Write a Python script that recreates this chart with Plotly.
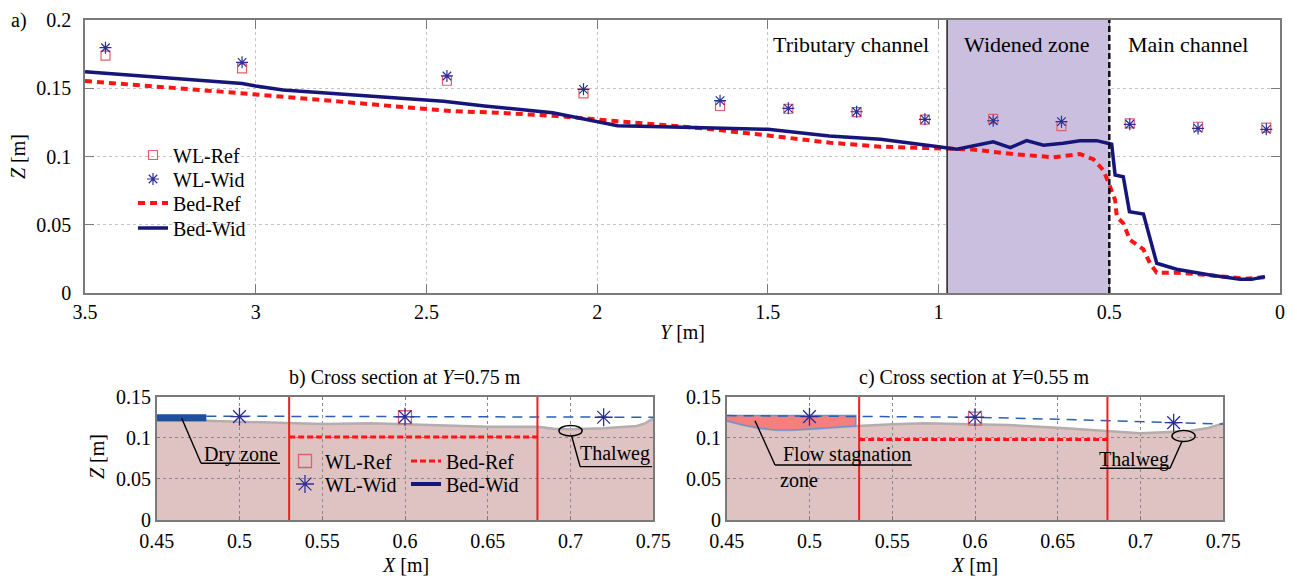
import plotly.graph_objects as go

FONT = "Liberation Serif"
W, H = 1297, 579

# ---------------- a) longitudinal profile ----------------
y_wl = [3.44, 3.04, 2.44, 2.04, 1.64, 1.44, 1.24, 1.04, 0.84, 0.64, 0.44, 0.24, 0.04]
wl_ref = [0.1739, 0.1646, 0.1555, 0.1463, 0.1370, 0.1350, 0.1325, 0.1270, 0.1275, 0.1223, 0.1243, 0.1218, 0.1211]
wl_wid = [0.1797, 0.1690, 0.1590, 0.1492, 0.1409, 0.1353, 0.1328, 0.1272, 0.1262, 0.1255, 0.1236, 0.1206, 0.1199]

y_bed_wid = [3.5, 3.04, 3.0, 2.92, 2.45, 2.33, 2.13, 1.94, 1.81, 1.55, 1.50, 1.32, 1.17, 1.0, 0.947,
             0.84, 0.79, 0.742, 0.693, 0.635, 0.586, 0.537, 0.493, 0.483, 0.459, 0.441, 0.40,
             0.361, 0.303, 0.205, 0.117, 0.083, 0.044]
z_bed_wid = [0.1621, 0.1535, 0.1516, 0.1487, 0.1405, 0.1370, 0.1320, 0.1226, 0.1218, 0.1206, 0.1199,
             0.1150, 0.1126, 0.1072, 0.1053, 0.1108, 0.1065, 0.1116, 0.1082, 0.1097, 0.1116, 0.1116,
             0.1090, 0.0864, 0.0852, 0.0596, 0.0579, 0.0218, 0.0174, 0.0132, 0.0100, 0.0100, 0.0120]

y_bed_ref = [3.5, 3.0, 2.43, 2.294, 2.12, 2.0, 1.88, 1.69, 1.51, 1.318, 1.17, 1.0, 0.908, 0.78,
             0.664, 0.586, 0.547, 0.518, 0.503, 0.483, 0.478, 0.459, 0.439, 0.40, 0.381, 0.361,
             0.303, 0.25, 0.20, 0.15, 0.10, 0.044]
z_bed_ref = [0.1553, 0.1455, 0.1333, 0.1321, 0.1297, 0.1272, 0.1243, 0.1206, 0.1157, 0.1101, 0.1072,
             0.1060, 0.1053, 0.1018, 0.0994, 0.1018, 0.0980, 0.0901, 0.0815, 0.0681, 0.0559, 0.0511,
             0.0388, 0.0320, 0.0218, 0.0149, 0.0149, 0.0140, 0.0130, 0.0118, 0.0105, 0.0115]

widened_zone = [0.975, 0.5]
zones = ["Tributary channel", "Widened zone", "Main channel"]
zone_label_y = [1.257, 0.741, 0.27]

ya_ticks = [3.5, 3, 2.5, 2, 1.5, 1, 0.5, 0]
ya_ticktext = ["3.5", "3", "2.5", "2", "1.5", "1", "0.5", "0"]
za_ticks = [0, 0.05, 0.1, 0.15, 0.2]
za_ticktext = ["0", "0.05", "0.1", "0.15", "0.2"]

# ---------------- b) cross section at Y = 0.75 m ----------------
xb_bed = [0.45, 0.48, 0.50, 0.52, 0.55, 0.58, 0.60, 0.62, 0.65, 0.68, 0.69, 0.70, 0.72, 0.74, 0.745, 0.75]
zb_bed = [0.1208, 0.1208, 0.1196, 0.1184, 0.1168, 0.1176, 0.1168, 0.1152, 0.1135, 0.1135, 0.1111,
          0.1103, 0.1115, 0.1144, 0.1176, 0.1237]
xb_water = [0.48, 0.75]
zb_water = [0.1263, 0.1250]
xb_dry = [0.45, 0.48]
zb_dry = [0.1245, 0.1245]
xb_wl_wid = [0.50, 0.60, 0.72]
zb_wl_wid = [0.1257, 0.1255, 0.1250]
xb_wl_ref = [0.60]
zb_wl_ref = [0.1250]
xb_bed_ref = [0.53, 0.68]
zb_bed_ref = [0.101, 0.101]

# ---------------- c) cross section at Y = 0.55 m ----------------
xc_bed = [0.45, 0.46, 0.47, 0.48, 0.49, 0.50, 0.51, 0.52, 0.528, 0.53, 0.55, 0.57, 0.60, 0.62, 0.65,
          0.67, 0.69, 0.70, 0.72, 0.73, 0.74, 0.745, 0.75]
zc_bed = [0.1208, 0.1156, 0.1115, 0.1095, 0.1095, 0.1103, 0.1119, 0.1135, 0.1144, 0.1144, 0.1164,
          0.1176, 0.1168, 0.1156, 0.1123, 0.1095, 0.1062, 0.1054, 0.1074, 0.1086, 0.1115, 0.1144, 0.1176]
xc_water = [0.45, 0.50, 0.60, 0.65, 0.72, 0.75]
zc_water = [0.1270, 0.1265, 0.1250, 0.1225, 0.1184, 0.1168]
stagnation_end = 0.528
stagnation_top = 0.127
xc_wl_wid = [0.50, 0.60, 0.72]
zc_wl_wid = [0.1257, 0.1250, 0.1184]
xc_wl_ref = [0.60]
zc_wl_ref = [0.1233]
xc_bed_ref = [0.53, 0.68]
zc_bed_ref = [0.098, 0.098]

ref_banks = [0.53, 0.68]
xs_ticks = [0.45, 0.5, 0.55, 0.6, 0.65, 0.7, 0.75]
xs_ticktext = ["0.45", "0.5", "0.55", "0.6", "0.65", "0.7", "0.75"]
zs_ticks = [0, 0.05, 0.1, 0.15]
zs_ticktext = ["0", "0.05", "0.1", "0.15"]

NAVY = "#15157a"
RED = "#ff1414"
SQ = "#e0606a"
STAR = "#2e2e96"
WATER = "#2b5fb4"
ROSE = "#dec3c2"

fig = go.Figure()

# panel a traces (each legend row is its own legend box)
fig.add_trace(go.Scatter(x=y_bed_ref, y=z_bed_ref, mode="lines", name="Bed-Ref",
                         line=dict(color=RED, width=4, dash="7px,5px"), legend="legend3"))
fig.add_trace(go.Scatter(x=y_bed_wid, y=z_bed_wid, mode="lines", name="Bed-Wid",
                         line=dict(color=NAVY, width=3.5), legend="legend4"))
fig.add_trace(go.Scatter(x=y_wl, y=wl_ref, mode="markers", name="WL-Ref",
                         marker=dict(symbol="square-open", size=9, color=SQ, line=dict(width=1.2)),
                         legend="legend"))
fig.add_trace(go.Scatter(x=y_wl, y=wl_wid, mode="markers", name="WL-Wid",
                         marker=dict(symbol="asterisk-open", size=10, color=STAR,
                                     line=dict(width=1.2, color=STAR)), legend="legend2"))

# panel b traces
fig.add_trace(go.Scatter(x=xb_bed, y=zb_bed, mode="lines", line=dict(color="#b5adad", width=2.5),
                         xaxis="x2", yaxis="y2", showlegend=False, hoverinfo="skip"))
fig.add_trace(go.Scatter(x=xb_water, y=zb_water, mode="lines", line=dict(color=WATER, width=1.5, dash="10px,7px"),
                         xaxis="x2", yaxis="y2", showlegend=False))
fig.add_trace(go.Scatter(x=xb_dry, y=zb_dry, mode="lines", line=dict(color="#1f4f9f", width=7),
                         xaxis="x2", yaxis="y2", showlegend=False))
for xv in ref_banks:
    fig.add_trace(go.Scatter(x=[xv, xv], y=[0, 0.15], mode="lines", line=dict(color="#ee2020", width=2),
                             xaxis="x2", yaxis="y2", showlegend=False, hoverinfo="skip"))
fig.add_trace(go.Scatter(x=xb_bed_ref, y=zb_bed_ref, mode="lines", name="Bed-Ref",
                         line=dict(color=RED, width=3, dash="6px,3px"),
                         xaxis="x2", yaxis="y2", legend="legend7"))
fig.add_trace(go.Scatter(x=[None], y=[None], mode="lines", name="Bed-Wid",
                         line=dict(color=NAVY, width=4), xaxis="x2", yaxis="y2", legend="legend8"))
fig.add_trace(go.Scatter(x=xb_wl_ref, y=zb_wl_ref, mode="markers", name="WL-Ref",
                         marker=dict(symbol="square-open", size=13, color=SQ, line=dict(width=1.3)),
                         xaxis="x2", yaxis="y2", legend="legend5"))
fig.add_trace(go.Scatter(x=xb_wl_wid, y=zb_wl_wid, mode="markers", name="WL-Wid",
                         marker=dict(symbol="asterisk-open", size=15, color=STAR,
                                     line=dict(width=1.3, color=STAR)),
                         xaxis="x2", yaxis="y2", legend="legend6"))

# panel c traces
stag_x = [x for x in xc_bed if x <= stagnation_end] + [stagnation_end, xc_bed[0]]
stag_z = [z for x, z in zip(xc_bed, zc_bed) if x <= stagnation_end] + [stagnation_top, stagnation_top]
fig.add_trace(go.Scatter(x=xc_bed, y=zc_bed, mode="lines", line=dict(color="#b5adad", width=2.5),
                         xaxis="x3", yaxis="y3", showlegend=False, hoverinfo="skip"))
fig.add_trace(go.Scatter(x=stag_x, y=stag_z, mode="lines", fill="toself", fillcolor="#f3807e",
                         line=dict(color="#7392c8", width=1.5),
                         xaxis="x3", yaxis="y3", showlegend=False))
fig.add_trace(go.Scatter(x=xc_water, y=zc_water, mode="lines", line=dict(color=WATER, width=1.5, dash="10px,7px"),
                         xaxis="x3", yaxis="y3", showlegend=False))
for xv in ref_banks:
    fig.add_trace(go.Scatter(x=[xv, xv], y=[0, 0.15], mode="lines", line=dict(color="#ee2020", width=2),
                             xaxis="x3", yaxis="y3", showlegend=False, hoverinfo="skip"))
fig.add_trace(go.Scatter(x=xc_bed_ref, y=zc_bed_ref, mode="lines", line=dict(color=RED, width=3, dash="6px,3px"),
                         xaxis="x3", yaxis="y3", showlegend=False))
fig.add_trace(go.Scatter(x=xc_wl_ref, y=zc_wl_ref, mode="markers",
                         marker=dict(symbol="square-open", size=13, color=SQ, line=dict(width=1.3)),
                         xaxis="x3", yaxis="y3", showlegend=False))
fig.add_trace(go.Scatter(x=xc_wl_wid, y=zc_wl_wid, mode="markers",
                         marker=dict(symbol="asterisk-open", size=15, color=STAR,
                                     line=dict(width=1.3, color=STAR)),
                         xaxis="x3", yaxis="y3", showlegend=False))


def bed_path(xs, zs):
    pts = [f"L {x},{z}" for x, z in zip(xs, zs)]
    return f"M {xs[0]},0 " + " ".join(pts) + f" L {xs[-1]},0 Z"


shapes = [
    dict(type="rect", xref="x", yref="y", x0=widened_zone[0], x1=widened_zone[1], y0=0, y1=0.2,
         fillcolor="#cbbfdf", line=dict(width=0), layer="between"),
    dict(type="line", xref="x", yref="y", x0=widened_zone[0], x1=widened_zone[0], y0=0, y1=0.2,
         line=dict(color="#202020", width=1.5)),
    dict(type="line", xref="x", yref="y", x0=widened_zone[1], x1=widened_zone[1], y0=0, y1=0.2,
         line=dict(color="#101010", width=2.5, dash="6px,3px")),
    dict(type="path", xref="x2", yref="y2", path=bed_path(xb_bed, zb_bed),
         fillcolor=ROSE, line=dict(width=0), layer="below"),
    dict(type="path", xref="x3", yref="y3", path=bed_path(xc_bed, zc_bed),
         fillcolor=ROSE, line=dict(width=0), layer="below"),
]

LEADER = dict(color="black", width=1.4)
# Dry zone
shapes += [
    dict(type="line", xref="x2", yref="y2", x0=0.4651, y0=0.1237, x1=0.4768, y1=0.069, line=LEADER),
    dict(type="line", xref="x2", yref="y2", x0=0.4768, y0=0.069, x1=0.5245, y1=0.069, line=LEADER),
]
# Thalweg (b)
shapes += [
    dict(type="circle", xref="x2", yref="y2", x0=0.693, x1=0.707, y0=0.1022, y1=0.1150, line=LEADER),
    dict(type="line", xref="x2", yref="y2", x0=0.7007, y0=0.1022, x1=0.7058, y1=0.0649, line=LEADER),
    dict(type="line", xref="x2", yref="y2", x0=0.7058, y0=0.0649, x1=0.7493, y1=0.0649, line=LEADER),
]
# Flow stagnation zone (c)
shapes += [
    dict(type="line", xref="x3", yref="y3", x0=0.4671, y0=0.1208, x1=0.4792, y1=0.0669, line=LEADER),
    dict(type="line", xref="x3", yref="y3", x0=0.4792, y0=0.0669, x1=0.5618, y1=0.0669, line=LEADER),
]
# Thalweg (c)
shapes += [
    dict(type="circle", xref="x3", yref="y3", x0=0.719, x1=0.733, y0=0.0955, y1=0.1090, line=LEADER),
    dict(type="line", xref="x3", yref="y3", x0=0.7178, y0=0.0629, x1=0.7250, y1=0.0955, line=LEADER),
    dict(type="line", xref="x3", yref="y3", x0=0.6755, y0=0.0629, x1=0.7178, y1=0.0629, line=LEADER),
]

TXT = dict(family=FONT, size=20, color="black")


def ann(text, x, y, xref="paper", yref="paper", **kw):
    d = dict(text=text, x=x, y=y, xref=xref, yref=yref, showarrow=False, font=TXT,
             xanchor="center", yanchor="middle")
    d.update(kw)
    return d


annotations = [
    ann("a)", 19 / W, 1 - 20 / H),
    ann("<i>Z</i> [m]", 18 / W, 1 - 157 / H, textangle=-90),
    ann("<i>Y</i> [m]", 682 / W, 1 - 332 / H),
    ann("b) Cross section at <i>Y</i>=0.75 m", 405 / W, 1 - 377 / H),
    ann("c) Cross section at <i>Y</i>=0.55 m", 975 / W, 1 - 377 / H),
    ann("<i>Z</i> [m]", 97 / W, 1 - 457 / H, textangle=-90),
    ann("<i>X</i> [m]", 405 / W, 1 - 565 / H),
    ann("<i>X</i> [m]", 975 / W, 1 - 565 / H),
    ann("Dry zone", 0.5011, 0.0791, "x2", "y2"),
    ann("Thalweg", 0.7269, 0.0811, "x2", "y2"),
    ann("Flow stagnation", 0.5224, 0.0799, "x3", "y3"),
    ann("zone", 0.4937, 0.0487, "x3", "y3"),
    ann("Thalweg", 0.6961, 0.0738, "x3", "y3"),
]
for name, yv in zip(zones, zone_label_y):
    annotations.append(ann(name, yv, 0.1817, "x", "y", font=dict(family=FONT, size=22, color="black")))


def axis_font():
    return dict(family=FONT, size=20, color="black")


AX = dict(showline=True, linecolor="#7a7a7a", linewidth=1.5, mirror="allticks",
          ticks="inside", tickcolor="#7a7a7a", zeroline=False, showgrid=True,
          griddash="dot", automargin=False)


def legend_box(x_px, y_px):
    return dict(x=x_px / W, y=1 - y_px / H, xanchor="left", yanchor="middle",
                bgcolor="rgba(0,0,0,0)", font=axis_font(), itemwidth=30, borderwidth=0)


fig.update_layout(
    width=W, height=H,
    margin=dict(l=0, r=0, t=0, b=0, pad=0, autoexpand=False),
    paper_bgcolor="white", plot_bgcolor="white",
    font=TXT,
    xaxis=dict(AX, domain=[85 / W, 1280 / W], range=[3.5, 0], tickvals=ya_ticks, ticktext=ya_ticktext,
               gridcolor="#c4c4c4", ticklen=9, anchor="y", tickfont=axis_font()),
    yaxis=dict(AX, domain=[1 - 293 / H, 1 - 20 / H], range=[0, 0.2], tickvals=za_ticks,
               ticktext=za_ticktext, gridcolor="#c4c4c4", ticklen=9, anchor="x",
               tickfont=axis_font(), ticklabelstandoff=8),
    xaxis2=dict(AX, domain=[156.7 / W, 653.3 / W], range=[0.45, 0.75], tickvals=xs_ticks,
                ticktext=xs_ticktext, gridcolor="#8a8a8a", ticklen=4, anchor="y2",
                tickfont=axis_font(), ticklabelstandoff=2),
    yaxis2=dict(AX, domain=[1 - 520 / H, 1 - 396.7 / H], range=[0, 0.15], tickvals=zs_ticks,
                ticktext=zs_ticktext, gridcolor="#8a8a8a", ticklen=4, anchor="x2", tickfont=axis_font()),
    xaxis3=dict(AX, domain=[726.7 / W, 1223.3 / W], range=[0.45, 0.75], tickvals=xs_ticks,
                ticktext=xs_ticktext, gridcolor="#8a8a8a", ticklen=4, anchor="y3",
                tickfont=axis_font(), ticklabelstandoff=2),
    yaxis3=dict(AX, domain=[1 - 520 / H, 1 - 396.7 / H], range=[0, 0.15], tickvals=zs_ticks,
                ticktext=zs_ticktext, gridcolor="#8a8a8a", ticklen=4, anchor="x3", tickfont=axis_font()),
    legend=legend_box(133, 155),
    legend2=legend_box(133, 179),
    legend3=legend_box(133, 203),
    legend4=legend_box(133, 228),
    legend5=legend_box(285, 461),
    legend6=legend_box(285, 484),
    legend7=legend_box(406, 461),
    legend8=legend_box(406, 484),
    shapes=shapes,
    annotations=annotations,
    showlegend=True,
)

fig.write_html("out.html")
